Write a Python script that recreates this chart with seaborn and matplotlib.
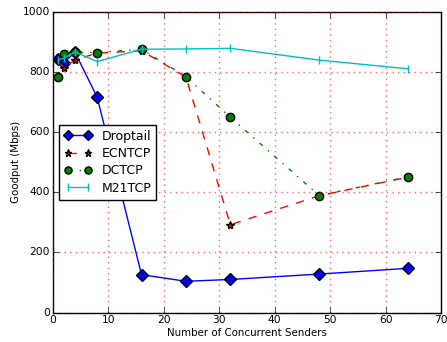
import matplotlib
matplotlib.use("Agg")
import matplotlib.pyplot as plt
import seaborn as sns

#%% data
senders = [1, 2, 4, 8, 16, 24, 32, 48, 64]
droptail = [842, 830, 865, 716, 126, 104, 110, 128, 147]
ecntcp = [840, 812, 840, 862, 870, 783, 292, 388, 450]
dctcp = [784, 860, 865, 864, 875, 784, 649, 389, 451]
m21tcp = [840, 845, 866, 834, 875, 876, 878, 839, 810]

#%% setup plot
sns.set_style("white")
plt.style.use("classic")
plt.rcParams['font.family'] = ['DejaVu Sans']

fig = plt.figure(figsize=(4.47, 3.42), dpi=100, facecolor='white')
ax = fig.add_axes([0.118, 0.086, 0.869, 0.880])

sns.lineplot(x=senders, y=droptail, ax=ax, color='b', linestyle='-', marker='D',
             markersize=6, markeredgecolor='k', markeredgewidth=1, label='Droptail')
sns.lineplot(x=senders, y=ecntcp, ax=ax, color='r', linestyle='--', marker='*',
             markersize=6, markeredgecolor='k', markeredgewidth=1, label='ECNTCP')
sns.lineplot(x=senders, y=dctcp, ax=ax, color='g', linestyle='-.', marker='o',
             markersize=6, markeredgecolor='k', markeredgewidth=1, label='DCTCP')
sns.lineplot(x=senders, y=m21tcp, ax=ax, color='c', linestyle='-', marker='|',
             markersize=6, markeredgecolor='c', markeredgewidth=1, label='M21TCP')

ax.set_xlim(0, 70)
ax.set_ylim(0, 1000)
ax.set_xticks(range(0, 71, 10))
ax.set_yticks(range(0, 1001, 200))
ax.tick_params(labelsize=7.7, direction='in', top=True, right=True, pad=2)
ax.grid(True, color='r', linestyle=':', linewidth=1, alpha=0.6)
ax.set_xlabel('Number of Concurrent Senders', fontsize=7.4, labelpad=2)
ax.set_ylabel('Goodput (Mbps)', fontsize=7.4, labelpad=1)

leg = ax.legend(loc='upper left', bbox_to_anchor=(0.0, 0.645), fontsize=9,
                numpoints=2, frameon=True, fancybox=False, markerscale=0.85,
                handlelength=2.2, labelspacing=0.35, borderpad=0.4)
leg.get_frame().set_edgecolor('k')

plt.savefig('out.png', dpi=100, facecolor='white')
